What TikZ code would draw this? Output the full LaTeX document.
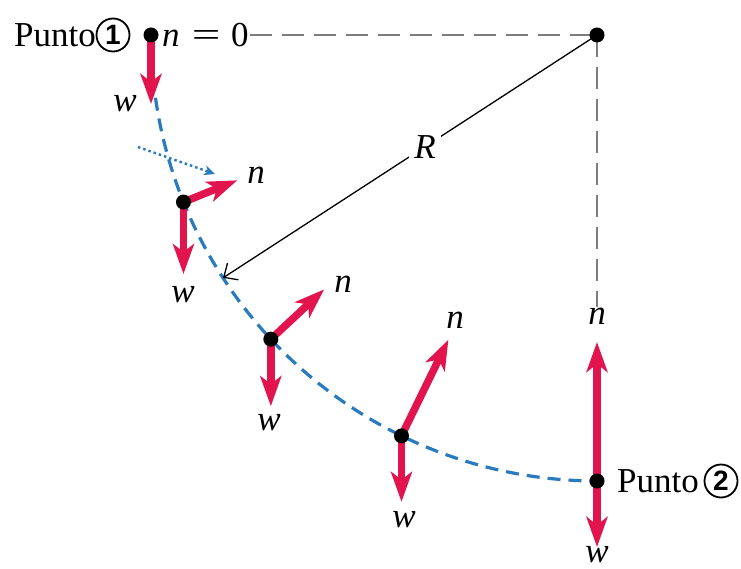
\documentclass[tikz,border=0pt]{standalone}
\usepackage{fontspec}
\usepackage{graphicx}
\setmainfont{Liberation Serif}
\newfontfamily\numfont{Liberation Sans}
\usetikzlibrary{arrows.meta,calc}
\definecolor{forcered}{RGB}{226,20,78}
\definecolor{pathblue}{RGB}{42,122,190}
\definecolor{guidegray}{RGB}{125,125,125}
\begin{document}
\begin{tikzpicture}[x=1pt,y=-1pt,
  every node/.style={font=\fontsize{35}{40}\selectfont},
  force/.style={forcered, line width=7.5pt, -{Stealth[length=30pt,width=21pt,inset=8pt]}},
  dot/.style={circle, fill=black, minimum size=15pt, inner sep=0pt},
  lab/.style={font=\fontsize{35}{40}\selectfont\itshape, inner sep=1pt},
  guide/.style={guidegray, line width=1.4pt, dash pattern=on 22pt off 10pt},
  pathline/.style={pathblue, line width=3.2pt, dash pattern=on 13pt off 8pt},
  tangent/.style={pathblue, line width=2.4pt, dash pattern=on 2.5pt off 3pt, -{Stealth[length=11pt,width=10pt]}},
  radius/.style={black, line width=1.3pt, -{Straight Barb[length=11pt,width=20pt]}},
  numcirc/.style={circle, draw, line width=1.8pt, minimum size=33pt, inner sep=0pt, font=\fontsize{28}{32}\selectfont\numfont\bfseries}
]
\useasboundingbox (0,0) rectangle (741,569);

% path of the particle
\draw[pathline] plot[domain=0:90,samples=90] ({597-446*cos(\x)},{35+446*sin(\x)});

% points
\coordinate (C) at (597,35);
\coordinate (P1) at (151,35);
\coordinate (A) at ({597-446*cos(22)},{35+446*sin(22)});
\coordinate (B) at ({597-446*cos(43)},{35+446*sin(43)});
\coordinate (D) at ({597-446*cos(64)},{35+446*sin(64)});
\coordinate (P2) at (597,481);
\coordinate (Rt) at ({597-446*cos(33)},{35+446*sin(33)});

% labels
\node[anchor=east, inner sep=0pt] (p1text) at (96,35) {Punto};
\node[numcirc] (p1num) at (113,35) {1};
\node[anchor=west, inner sep=1pt] (n0) at (161,35) {\textit{n}\hspace{0.35em}\scalebox{1.45}[1]{=}\hspace{0.3em}0};
\node[anchor=west, inner sep=0pt] (p2text) at (617,481) {Punto};
\node[numcirc] (p2num) at (721,481) {2};

\node[lab] (nP2) at (597,316) {n};

% guide lines
\draw[guide] (n0.east) -- (C);
\draw[guide] (C) -- (nP2.north);

% radius
\draw[radius] (C) -- node[pos=0.46, fill=white, lab, inner sep=5pt] (Rl) {R} (Rt);

% tangent (dotted)
\coordinate (t1) at (138,147);
\coordinate (t2) at (215,174);
\draw[tangent] (t1) -- (t2);

% forces
\draw[force] (P1) -- ++(0,69) coordinate (w1);
\draw[force] (A) -- ++(0,72) coordinate (w2);
\draw[force] (A) -- ($(A)!58pt!(C)$) coordinate (n2);
\draw[force] (B) -- ++(0,67) coordinate (w3);
\draw[force] (B) -- ($(B)!73pt!(C)$) coordinate (n3);
\draw[force] (D) -- ++(0,66) coordinate (w4);
\draw[force] (D) -- ($(D)!107pt!(C)$) coordinate (n4);
\draw[force] (P2) -- ++(0,66) coordinate (w5);
\draw[force] (P2) -- ++(0,-139) coordinate (n5);

% dots
\node[dot] (d1) at (P1) {};
\node[dot] (d2) at (A) {};
\node[dot] (d3) at (B) {};
\node[dot] (d4) at (D) {};
\node[dot] (d5) at (P2) {};
\node[dot] (dc) at (C) {};

% force labels
\node[lab] (lw1) at (125,104) {w};
\node[lab] (lw2) at (183,295) {w};
\node[lab] (ln2) at (256,175) {n};
\node[lab] (lw3) at (269,423) {w};
\node[lab] (ln3) at (343,284) {n};
\node[lab] (lw4) at (404,520) {w};
\node[lab] (ln4) at (455,320) {n};
\node[lab] (lw5) at (597,555) {w};
\end{tikzpicture}
\end{document}
